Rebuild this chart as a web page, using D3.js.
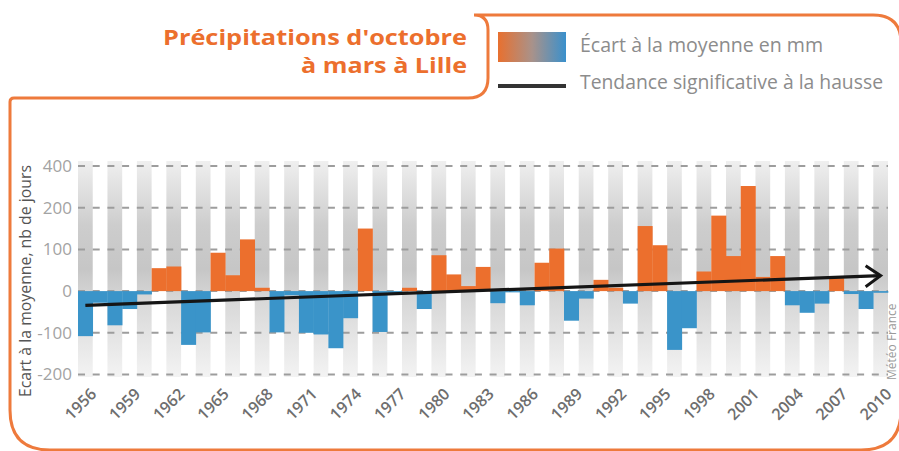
<!DOCTYPE html>
<html>
<head>
<meta charset="utf-8">
<script src="https://cdn.jsdelivr.net/npm/d3@7"></script>
<style>
  body { margin: 0; background: #fff; }
  svg { display: block; }
</style>
</head>
<body>
<div id="chart"></div>
<script>
// données : écart à la moyenne (mm), octobre à mars, Lille
var years = [1956, 1957, 1958, 1959, 1960, 1961, 1962, 1963, 1964, 1965,
             1966, 1967, 1968, 1969, 1970, 1971, 1972, 1973, 1974, 1975,
             1976, 1977, 1978, 1979, 1980, 1981, 1982, 1983, 1984, 1985,
             1986, 1987, 1988, 1989, 1990, 1991, 1992, 1993, 1994, 1995,
             1996, 1997, 1998, 1999, 2000, 2001, 2002, 2003, 2004, 2005,
             2006, 2007, 2008, 2009, 2010];
var ecart = [-108, -28, -82, -43, -8, 55, 59, -129, -99, 92,
             38, 124, 8, -99, -10, -100, -104, -137, -65, 150,
             -98, -8, 8, -43, 86, 40, 12, 58, -29, -3,
             -34, 68, 102, -71, -18, 27, 8, -30, 156, 110,
             -141, -89, 47, 181, 84, 252, 34, 84, -34, -52,
             -30, 31, -7, -43, -4];
var trendYears = [1956, 2010];
var trendValues = [-34, 37];
var yTicks = [-200, -100, 0, 100, 200, 300];
var yTickLabels = ["-200", "-100", "0", "100", "200", "400"];
var xLabelYears = [1956, 1959, 1962, 1965, 1968, 1971, 1974, 1977, 1980, 1983,
                   1986, 1989, 1992, 1995, 1998, 2001, 2004, 2007, 2010];

var W = 899, H = 451;
var colOrange = "#ec6f2d", colBlue = "#3a94c9", colFrame = "#ee7a3c";
var font = "'Open Sans', 'Noto Sans', sans-serif";

var svg = d3.select("#chart").append("svg")
  .attr("width", W).attr("height", H);

var defs = svg.append("defs");
var gBand = defs.append("linearGradient").attr("id", "bandGrad")
  .attr("x1", 0).attr("y1", 0).attr("x2", 0).attr("y2", 1);
gBand.append("stop").attr("offset", "0%").attr("stop-color", "#efefef");
gBand.append("stop").attr("offset", "30%").attr("stop-color", "#cdcdcd");
gBand.append("stop").attr("offset", "50%").attr("stop-color", "#c6c6c6");
gBand.append("stop").attr("offset", "65%").attr("stop-color", "#d8d8d8");
gBand.append("stop").attr("offset", "100%").attr("stop-color", "#f3f3f3");

var gLeg = defs.append("linearGradient").attr("id", "legGrad")
  .attr("x1", 0).attr("y1", 0).attr("x2", 1).attr("y2", 0);
gLeg.append("stop").attr("offset", "0%").attr("stop-color", "#e8702f");
gLeg.append("stop").attr("offset", "50%").attr("stop-color", "#a9928a");
gLeg.append("stop").attr("offset", "100%").attr("stop-color", "#3a90cc");

///////////////////////////////////////// cadre orange
svg.append("path")
  .attr("d", "M474,15 Q488,15 488,30 L488,78 Q488,98 468,98 L14,98 Q10,98 10,102 " +
             "L10,410 Q10,450 50,450 L861,450 Q901,450 901,410 L901,43 Q901,15 873,15 Z")
  .attr("fill", "none")
  .attr("stroke", colFrame)
  .attr("stroke-width", 3);

///////////////////////////////////////// titre
svg.append("text")
  .attr("x", 467).attr("y", 45)
  .attr("text-anchor", "end")
  .attr("font-family", font).attr("font-weight", "bold").attr("font-size", 22)
  .attr("fill", colOrange)
  .attr("textLength", 304).attr("lengthAdjust", "spacingAndGlyphs")
  .text("Précipitations d'octobre");
svg.append("text")
  .attr("x", 467).attr("y", 73)
  .attr("text-anchor", "end")
  .attr("font-family", font).attr("font-weight", "bold").attr("font-size", 22)
  .attr("fill", colOrange)
  .attr("textLength", 166).attr("lengthAdjust", "spacingAndGlyphs")
  .text("à mars à Lille");

///////////////////////////////////////// légende
svg.append("rect")
  .attr("x", 498).attr("y", 32).attr("width", 68).attr("height", 30)
  .attr("fill", "url(#legGrad)");
svg.append("text")
  .attr("x", 580).attr("y", 52)
  .attr("font-family", font).attr("font-size", 20).attr("fill", "#8c8c8c")
  .attr("textLength", 243).attr("lengthAdjust", "spacingAndGlyphs")
  .text("Écart à la moyenne en mm");
svg.append("line")
  .attr("x1", 498).attr("x2", 566).attr("y1", 86).attr("y2", 86)
  .attr("stroke", "#333").attr("stroke-width", 4);
svg.append("text")
  .attr("x", 580).attr("y", 89)
  .attr("font-family", font).attr("font-size", 20).attr("fill", "#8c8c8c")
  .attr("textLength", 303).attr("lengthAdjust", "spacingAndGlyphs")
  .text("Tendance significative à la hausse");

///////////////////////////////////////// échelles
var x = d3.scaleBand().domain(years).range([78, 888]).padding(0);
var y = d3.scaleLinear().domain([-200, 300]).range([374.5, 166]);

// bandes grises (une année sur deux)
svg.append("g").selectAll("rect")
  .data(years.filter(function(d, i) { return i % 2 === 0; }))
  .enter().append("rect")
    .attr("x", function(d) { return x(d); })
    .attr("width", x.bandwidth())
    .attr("y", 161).attr("height", 216)
    .attr("fill", "url(#bandGrad)");

// grille pointillée
svg.append("g").selectAll("line")
  .data(yTicks)
  .enter().append("line")
    .attr("x1", 78).attr("x2", 888)
    .attr("y1", function(d) { return y(d); })
    .attr("y2", function(d) { return y(d); })
    .attr("stroke", "#9d9d9d").attr("stroke-width", 2)
    .attr("stroke-dasharray", "7,7.7");

// axe Y
var yAxis = svg.append("g")
  .attr("transform", "translate(72,0)")
  .call(d3.axisLeft(y).tickValues(yTicks).tickSize(0).tickPadding(0)
    .tickFormat(function(d, i) { return yTickLabels[i]; }));
yAxis.select(".domain").remove();
yAxis.selectAll("text")
  .attr("font-family", font).attr("font-size", 17).attr("fill", "#a3a3a3");

// barres
svg.append("g").selectAll("rect")
  .data(years)
  .enter().append("rect")
    .attr("x", function(d) { return x(d); })
    .attr("width", x.bandwidth() + 0.3)
    .attr("y", function(d, i) { return y(Math.max(0, ecart[i])); })
    .attr("height", function(d, i) { return Math.abs(y(ecart[i]) - y(0)); })
    .attr("fill", function(d, i) { return ecart[i] >= 0 ? colOrange : colBlue; });

// tendance
var tx = function(yr) { return x(yr) + x.bandwidth() / 2; };
svg.append("line")
  .attr("x1", tx(trendYears[0])).attr("y1", y(trendValues[0]))
  .attr("x2", tx(trendYears[1])).attr("y2", y(trendValues[1]))
  .attr("stroke", "#151515").attr("stroke-width", 3.2);
var ax = tx(trendYears[1]), ay = y(trendValues[1]);
svg.append("path")
  .attr("d", "M" + (ax - 15) + "," + (ay - 10) + " L" + ax + "," + ay + " L" + (ax - 15) + "," + (ay + 11))
  .attr("fill", "none").attr("stroke", "#151515").attr("stroke-width", 3);

// axe X (étiquettes inclinées)
svg.append("g").selectAll("text")
  .data(xLabelYears)
  .enter().append("text")
    .attr("transform", function(d) {
      return "translate(" + (x(d) + x.bandwidth() / 2 + 12) + ",395) rotate(-45)";
    })
    .attr("text-anchor", "end")
    .attr("font-family", font).attr("font-size", 16).attr("font-weight", 600)
    .attr("fill", "#6e6e6e")
    .text(function(d) { return d; });

// titre de l'axe Y
svg.append("text")
  .attr("transform", "translate(31,281) rotate(-90)")
  .attr("text-anchor", "middle")
  .attr("font-family", font).attr("font-size", 16).attr("fill", "#555")
  .attr("textLength", 232).attr("lengthAdjust", "spacingAndGlyphs")
  .text("Ecart à la moyenne, nb de jours");

// source
svg.append("text")
  .attr("transform", "translate(896,380) rotate(-90)")
  .attr("text-anchor", "start")
  .attr("font-family", font).attr("font-size", 12).attr("fill", "#9a9a9a")
  .text("Météo France");
</script>
</body>
</html>
